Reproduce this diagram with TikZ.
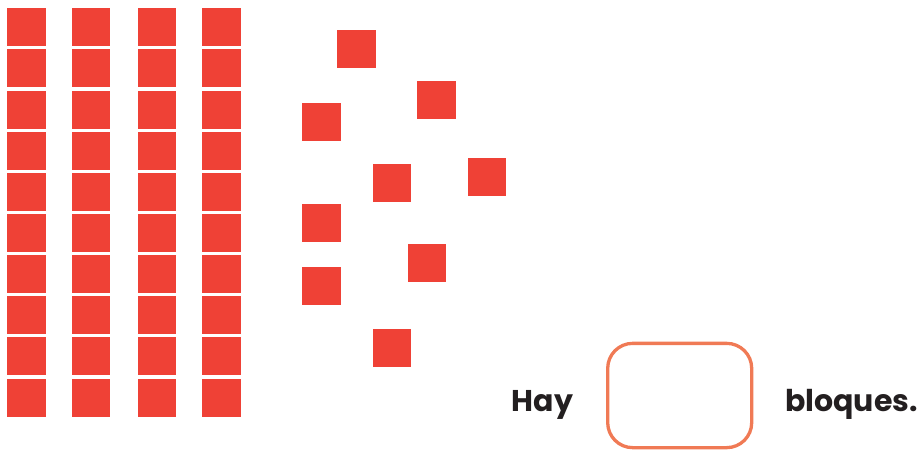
\documentclass[tikz,border=0pt]{standalone}
\usepackage{fontspec}
\setmainfont{Poppins}
\definecolor{blockred}{RGB}{239,65,54}
\definecolor{boxorange}{RGB}{240,122,85}
\definecolor{textdark}{RGB}{35,31,32}
\begin{document}
\begin{tikzpicture}[x=1pt,y=-1pt,
 blk/.style={fill=blockred, draw=none, minimum width=38.3pt, minimum height=38pt, inner sep=0pt, anchor=north west},
 lbl/.style={font=\bfseries\fontsize{30}{30}\selectfont, text=textdark, inner sep=0pt, anchor=base west},
 answerbox/.style={draw=boxorange, line width=3.3pt, rounded corners=25pt, minimum width=144pt, minimum height=104.3pt, inner sep=0pt}]
\useasboundingbox (0,0) rectangle (922,451);
\foreach \c/\x in {1/7,2/71.5,3/137.5,4/202}{
  \foreach \r in {0,...,9}{
    \node[blk] (c\c r\r) at (\x, {8+41.15*\r}) {};
  }}
\node[blk] (la) at (337,30) {};
\node[blk] (lb) at (417,80.5) {};
\node[blk] (lc) at (302,103) {};
\node[blk] (ld) at (372.3,163.5) {};
\node[blk] (le) at (467.7,158) {};
\node[blk] (lf) at (302,203.5) {};
\node[blk] (lg) at (407.7,244) {};
\node[blk] (lh) at (302,267) {};
\node[blk] (li) at (372.3,329) {};
\node[answerbox] (box) at (679.7,395.5) {};
\node[lbl] (hay) at (511.7,411.7) {Hay};
\node[lbl] (bloques) at (785,411.7) {bloques.};
\end{tikzpicture}
\end{document}
